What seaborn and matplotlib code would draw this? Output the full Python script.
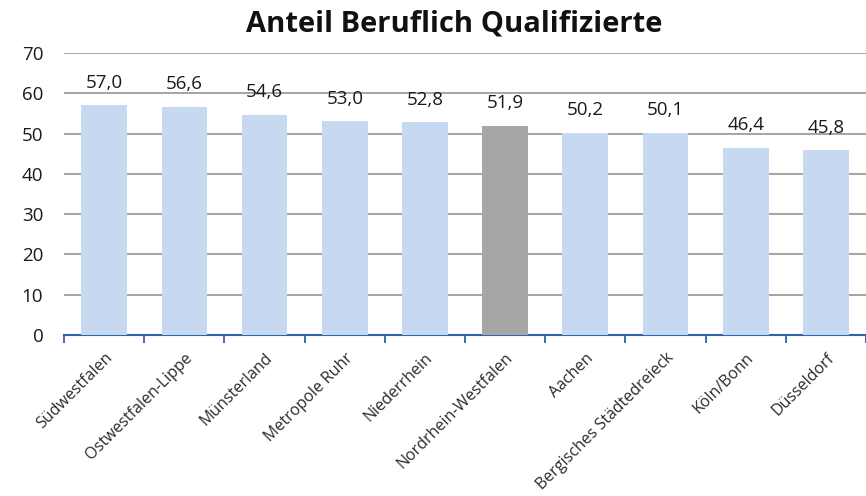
import numpy as np
import pandas as pd
import matplotlib
matplotlib.use('Agg')
import matplotlib.pyplot as plt
import seaborn as sns

# Data
regions = ['Südwestfalen', 'Ostwestfalen-Lippe', 'Münsterland', 'Metropole Ruhr',
           'Niederrhein', 'Nordrhein-Westfalen', 'Aachen', 'Bergisches Städtedreieck',
           'Köln/Bonn', 'Düsseldorf']
shares = [57.0, 56.6, 54.6, 53.0, 52.8, 51.9, 50.2, 50.1, 46.4, 45.8]
highlight = 'Nordrhein-Westfalen'

df = pd.DataFrame({'Region': regions, 'Anteil': shares})
df['Gruppe'] = np.where(df['Region'] == highlight, 'NRW', 'Region')

sns.set_style('white')
plt.rcParams['font.family'] = ['Open Sans', 'DejaVu Sans']

fig = plt.figure(figsize=(8.66, 4.96), dpi=100)
ax = fig.add_axes([0.074, 0.325, 0.926, 0.568])

sns.barplot(data=df, x='Region', y='Anteil', hue='Gruppe',
            palette={'Region': '#C6D9F1', 'NRW': '#A6A6A6'},
            dodge=False, width=0.57, legend=False, ax=ax, zorder=3,
            linewidth=0, edgecolor='none', saturation=1)

# value labels, German decimal comma
for i, v in enumerate(shares):
    ax.text(i, v + 3.4, f'{v:.1f}'.replace('.', ','), ha='center', va='bottom',
            fontsize=13.5, color='#1a1a1a')

ax.set_ylim(0, 70)
ax.set_xlim(-0.5, len(regions) - 0.5)
ax.set_yticks(range(0, 71, 10))
ax.yaxis.grid(True, color='#8c8c8c', linewidth=1.1, zorder=0)
ax.set_axisbelow(True)
ax.tick_params(axis='y', length=0, labelsize=13.5, labelcolor='#1a1a1a', pad=15)

# category labels centred, tick marks between categories (Excel style)
ax.set_xticks(range(len(regions)))
ax.set_xticklabels(regions, rotation=45, ha='right', rotation_mode='anchor',
                   fontsize=11.5, color='#2b2b2b')
ax.tick_params(axis='x', which='major', length=0, pad=11)
ax.set_xticks(np.arange(-0.5, len(regions), 1), minor=True)
ax.tick_params(axis='x', which='minor', bottom=True, length=6, width=1.3,
               color='#2E64B0', direction='out')

for s in ['top', 'right', 'left']:
    ax.spines[s].set_visible(False)
ax.spines['bottom'].set_color('#2E64B0')
ax.spines['bottom'].set_linewidth(1.5)
ax.set_xlabel('')
ax.set_ylabel('')

fig.text(0.525, 0.952, 'Anteil Beruflich Qualifizierte', ha='center', va='center',
         fontsize=21, fontweight='bold', color='#111111')

fig.savefig('out.png', dpi=100)
